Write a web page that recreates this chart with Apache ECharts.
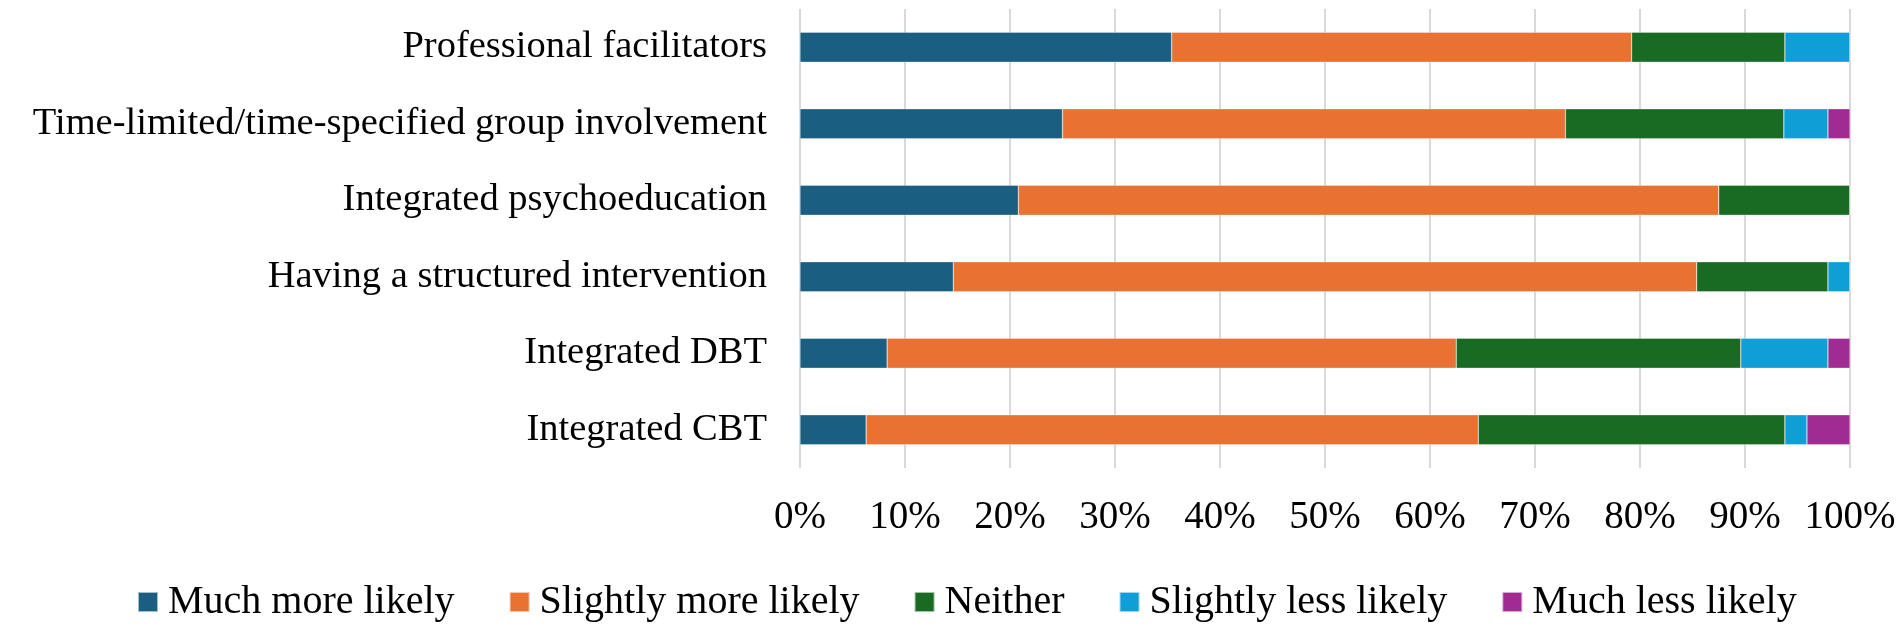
<!DOCTYPE html>
<html><head><meta charset="utf-8">
<script src="https://cdn.jsdelivr.net/npm/echarts@6/dist/echarts.min.js"></script>
<style>html,body{margin:0;padding:0;background:#fff}#c{width:1902px;height:629px}</style>
</head><body><div id="c"></div>
<script>
const categories = ["Professional facilitators","Time-limited/time-specified group involvement","Integrated psychoeducation","Having a structured intervention","Integrated DBT","Integrated CBT"];
const seriesNames = ["Much more likely","Slightly more likely","Neither","Slightly less likely","Much less likely"];
const muchMore     = [35.4, 25.0, 20.8, 14.6, 8.3, 6.3];
const slightlyMore = [43.8, 47.9, 66.7, 70.8, 54.2, 58.3];
const neither      = [14.6, 20.8, 12.5, 12.5, 27.1, 29.2];
const slightlyLess = [6.2, 4.2, 0, 2.1, 8.3, 2.1];
const muchLess     = [0, 2.1, 0, 0, 2.1, 4.1];
const tickLabels = ["0%","10%","20%","30%","40%","50%","60%","70%","80%","90%","100%"];
const colors = ["#1a5e82","#e97132","#196b24","#0f9ed5","#a02b93"];
const values = [muchMore, slightlyMore, neither, slightlyLess, muchLess];
const font = "'Liberation Serif','Times New Roman',serif";
const chart = echarts.init(document.getElementById('c'));
chart.setOption({
  animation:false,
  textStyle:{fontFamily:font},
  color:colors,
  grid:{left:800,right:52,top:9,height:459,containLabel:false},
  legend:{bottom:2,left:132,itemWidth:20,itemHeight:20,itemGap:54,icon:'rect',
    textStyle:{fontFamily:font,fontSize:40,color:'#000',padding:[0,0,0,5]},data:seriesNames},
  xAxis:{type:'value',min:0,max:100,interval:10,
    axisLine:{show:false},axisTick:{show:false},
    axisLabel:{fontFamily:font,fontSize:39,color:'#000',margin:30,
      formatter:(v)=>tickLabels[Math.round(v/10)]},
    splitLine:{show:true,lineStyle:{color:'#d9d9d9',width:2}}},
  yAxis:{type:'category',data:categories,inverse:true,
    axisLine:{show:false},axisTick:{show:false},
    axisLabel:{fontFamily:font,fontSize:38.5,color:'#000',margin:33}},
  series:seriesNames.map((n,i)=>({name:n,type:'bar',stack:'all',data:values[i],
    barWidth:30,itemStyle:{color:colors[i],borderColor:'rgba(255,255,255,0.6)',borderWidth:0.5}}))
});
</script></body></html>
